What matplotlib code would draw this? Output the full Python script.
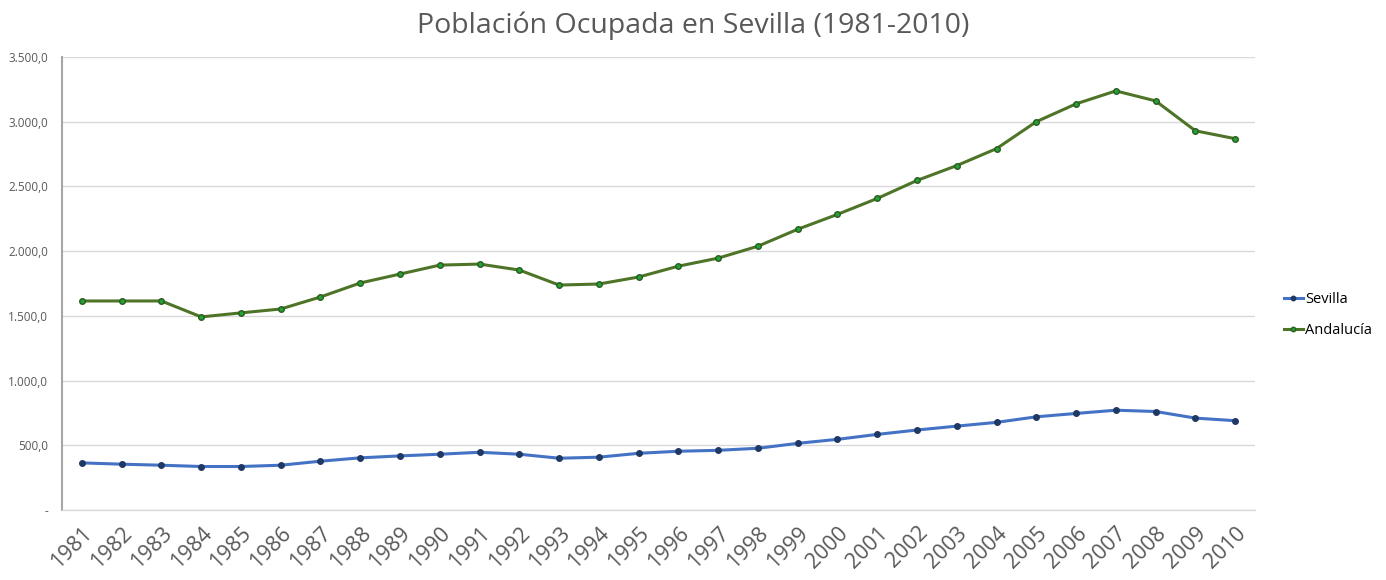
"""Población ocupada en Sevilla vs Andalucía (1981-2010)"""
import matplotlib as mpl
mpl.use("Agg")
import matplotlib.pyplot as plt
from matplotlib.ticker import FuncFormatter

mpl.rcParams.update({
    "font.family": ["Open Sans", "DejaVu Sans"],
    "font.size": 9,
})

# ── Data (miles de personas) ──
years = list(range(1981, 2011))
sevilla = [364, 354, 346, 336, 336, 346, 377, 403, 418, 431,
           446, 431, 400, 408, 438, 454, 461, 477, 515, 546,
           584, 618, 648, 677, 720, 746, 771, 761, 710, 690]
andalucia = [1615, 1615, 1615, 1492, 1523, 1553, 1646, 1754, 1823, 1892,
             1900, 1854, 1738, 1746, 1800, 1884, 1946, 2038, 2169, 2284,
             2407, 2546, 2661, 2792, 3000, 3138, 3238, 3161, 2930, 2869]
yticks = [0, 500, 1000, 1500, 2000, 2500, 3000, 3500]

GRAY = "#595959"

def es_fmt(v, _pos):
    if v == 0:
        return "-"
    s = f"{v:,.1f}"
    return s.replace(",", "X").replace(".", ",").replace("X", ".")

fig = plt.figure(figsize=(13.86, 5.80), dpi=100)
ax = fig.add_axes([62/1386, 1 - 510/580, (1255-62)/1386, (510-57)/580])

x = range(len(years))
ax.plot(x, sevilla, color="#4472C4", linewidth=2.2, marker="o", markersize=4,
        markerfacecolor="#1F3864", markeredgecolor="#1F3864", label="Sevilla", zorder=3)
ax.plot(x, andalucia, color="#4E7428", linewidth=2.2, marker="o", markersize=4,
        markerfacecolor="#1FA33A", markeredgecolor="#2E5A1C", label="Andalucía", zorder=3)

ax.set_xlim(-0.5, len(years) - 0.5)
ax.set_ylim(0, 3500)
ax.set_yticks(yticks)
ax.yaxis.set_major_formatter(FuncFormatter(es_fmt))
ax.set_xticks(list(x))
ax.set_xticklabels([str(y) for y in years], rotation=45, ha="right",
                   rotation_mode="anchor", fontsize=15.5, color=GRAY)
ax.tick_params(axis="y", length=0, labelsize=8.5, labelcolor=GRAY, pad=10)
ax.tick_params(axis="x", length=0, pad=9)

ax.grid(axis="y", color="#D9D9D9", linewidth=1)
ax.set_axisbelow(True)
for side in ("top", "right"):
    ax.spines[side].set_visible(False)
ax.spines["left"].set_color("#A6A6A6")
ax.spines["left"].set_linewidth(1.5)
ax.spines["bottom"].set_color("#D9D9D9")
ax.spines["bottom"].set_linewidth(1)

fig.suptitle("Población Ocupada en Sevilla (1981-2010)", x=0.5, y=0.98,
             fontsize=20.5, color=GRAY)

ax.legend(loc="center left", bbox_to_anchor=(1.024, 0.43), frameon=False,
          borderaxespad=0, borderpad=0, fontsize=10.5, handlelength=1.3,
          handletextpad=0.15, labelspacing=1.1, markerscale=0.8)

fig.savefig("out.png", dpi=100)
